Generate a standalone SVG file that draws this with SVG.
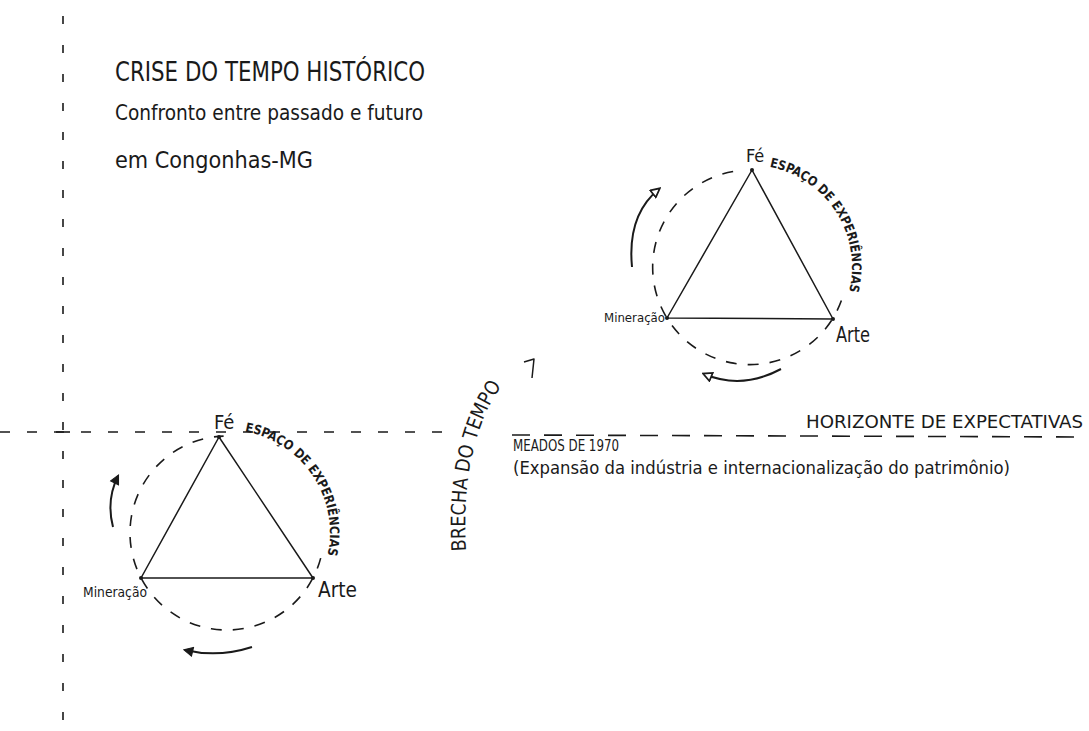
<svg xmlns="http://www.w3.org/2000/svg" width="1089" height="731" viewBox="0 0 1089 731">
<style>
  .ink { fill: #1a1a1a; font-family: "Liberation Sans Narrow", "DejaVu Sans Condensed", "Liberation Sans", sans-serif; }
  .axis { stroke: #1a1a1a; stroke-width: 1.6; fill: none; }
  .tri { stroke: #1a1a1a; stroke-width: 1.5; fill: none; stroke-linejoin: round; }
  .circ { stroke: #1a1a1a; stroke-width: 1.6; fill: none; stroke-dasharray: 11 11; }
  .arr { stroke: #1a1a1a; stroke-width: 2; fill: none; }
</style>
<defs>
  <marker id="openHead" viewBox="0 0 10 10" refX="8" refY="5" markerWidth="11" markerHeight="11" markerUnits="userSpaceOnUse" orient="auto">
    <path d="M1,1 L9,5 L1,9 z" fill="#fff" stroke="#1a1a1a" stroke-width="1.6"/>
  </marker>
  <marker id="fillHead" viewBox="0 0 10 10" refX="8" refY="5" markerWidth="11" markerHeight="11" markerUnits="userSpaceOnUse" orient="auto">
    <path d="M1,1 L9,5 L1,9 z" fill="#1a1a1a" stroke="#1a1a1a" stroke-width="1"/>
  </marker>
  <path id="arcTR" d="M 769.5 166.9 A 102 102 0 0 1 848.1 295.1"/>
  <path id="arcBL" d="M 244.9 431.6 A 103 103 0 0 1 326.5 559.7"/>
  <path id="arcBrecha" d="M 466 551 C 462 480, 474 420, 506 380"/>
</defs>
<rect width="1089" height="731" fill="#fff"/>

<g id="axes">
  <line class="axis" x1="63" y1="16" x2="63" y2="731" stroke-dasharray="8 21"/>
  <line class="axis" x1="0" y1="432" x2="455" y2="432" stroke-dasharray="10 17"/>
  <line class="axis" x1="56" y1="432" x2="70" y2="432"/>
  <line class="axis" x1="512" y1="435" x2="1086" y2="437" stroke-dasharray="18 14"/>
</g>

<g id="title">
  <text class="ink" x="115" y="81" font-size="27" textLength="310" lengthAdjust="spacingAndGlyphs">CRISE DO TEMPO HISTÓRICO</text>
  <text class="ink" x="115" y="120" font-size="22" textLength="308" lengthAdjust="spacingAndGlyphs">Confronto entre passado e futuro</text>
  <text class="ink" x="115" y="168" font-size="23" textLength="198" lengthAdjust="spacingAndGlyphs">em Congonhas-MG</text>
</g>

<g id="triangle-top">
  <path class="circ" d="M 841.4 300.6 A 97.3 97.3 0 1 1 741.5 170.4"/>
  <polygon class="tri" points="752,170 667,318 833,319"/>
  <circle cx="752" cy="170" r="2" fill="#1a1a1a"/>
  <circle cx="667" cy="318" r="2" fill="#1a1a1a"/>
  <circle cx="833" cy="319" r="2" fill="#1a1a1a"/>
  <text class="ink" x="746" y="162" font-size="18">Fé</text>
  <text class="ink" x="604" y="322" font-size="13" textLength="61" lengthAdjust="spacingAndGlyphs">Mineração</text>
  <text class="ink" x="836" y="342" font-size="22" textLength="34" lengthAdjust="spacingAndGlyphs">Arte</text>
  <text class="ink" font-size="13" font-weight="bold"><textPath href="#arcTR" textLength="165" lengthAdjust="spacingAndGlyphs">ESPAÇO DE EXPERIÊNCIAS</textPath></text>
  <path class="arr" d="M 632 267 Q 627 215 659 189" marker-end="url(#openHead)"/>
  <path class="arr" d="M 781 369 Q 742 390 704 374" marker-end="url(#openHead)"/>
</g>

<g id="triangle-bottom">
  <path class="circ" d="M 320.7 558.1 A 97 97 0 1 1 223.6 436.1"/>
  <polygon class="tri" points="219,437 141,578 313,578"/>
  <circle cx="219" cy="437" r="2" fill="#1a1a1a"/>
  <circle cx="141" cy="578" r="2" fill="#1a1a1a"/>
  <circle cx="313" cy="578" r="2" fill="#1a1a1a"/>
  <text class="ink" x="214" y="429" font-size="20">Fé</text>
  <text class="ink" x="83" y="597" font-size="14" textLength="64" lengthAdjust="spacingAndGlyphs">Mineração</text>
  <text class="ink" x="318" y="597" font-size="22" textLength="39" lengthAdjust="spacingAndGlyphs">Arte</text>
  <text class="ink" font-size="13" font-weight="bold"><textPath href="#arcBL" textLength="166" lengthAdjust="spacingAndGlyphs">ESPAÇO DE EXPERIÊNCIAS</textPath></text>
  <path class="arr" d="M 113 527 Q 106 500 118 476" marker-end="url(#fillHead)"/>
  <path class="arr" d="M 252 647 Q 218 658 185 650" marker-end="url(#fillHead)"/>
</g>

<g id="brecha">
  <text class="ink" font-size="20"><textPath href="#arcBrecha" textLength="172" lengthAdjust="spacingAndGlyphs">BRECHA DO TEMPO</textPath></text>
  <polyline class="tri" points="524,362 534,359 532,378"/>
</g>

<g id="labels">
  <text class="ink" x="513" y="451" font-size="16" textLength="106" lengthAdjust="spacingAndGlyphs">MEADOS DE 1970</text>
  <text class="ink" x="513" y="474" font-size="18" textLength="497" lengthAdjust="spacingAndGlyphs">(Expansão da indústria e internacionalização do patrimônio)</text>
  <text class="ink" x="806" y="428" font-size="17" textLength="277" lengthAdjust="spacingAndGlyphs">HORIZONTE DE EXPECTATIVAS</text>
</g>
</svg>
